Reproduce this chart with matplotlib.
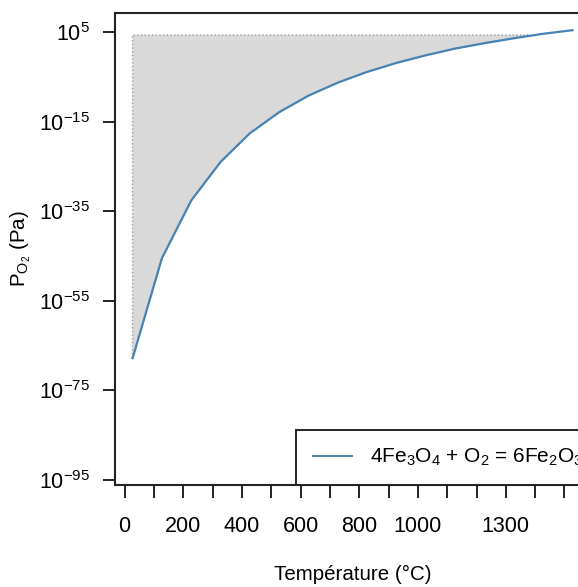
import numpy as np
import matplotlib
matplotlib.use("Agg")
import matplotlib.pyplot as plt
from matplotlib.ticker import FixedLocator, FixedFormatter, NullLocator

plt.rcParams['font.family'] = ['Liberation Sans', 'DejaVu Sans']
plt.rcParams['mathtext.fontset'] = 'custom'
plt.rcParams['mathtext.rm'] = 'Liberation Sans'
plt.rcParams['mathtext.it'] = 'Liberation Sans:italic'
plt.rcParams['mathtext.default'] = 'regular'

# Température (°C), pas de 100 K entre 300 K et 1800 K
temp_c = [27, 127, 227, 327, 427, 527, 627, 727, 827, 927,
          1027, 1127, 1227, 1327, 1427, 1527]
# log10 de la pression d'O2 à l'équilibre (Pa)
log_po2 = [-67.8, -45.5, -32.6, -24.0, -17.6, -12.9, -9.2, -6.3, -3.9, -1.9,
           -0.2, 1.3, 2.5, 3.6, 4.6, 5.4]
p_air = 0.21 * 101325  # pression partielle d'O2 dans l'air (Pa)

x_ticks = [0, 100, 200, 300, 400, 500, 600, 700, 800, 900, 1000, 1100, 1200, 1300, 1400, 1500]
x_labels = ['0', '', '200', '', '400', '', '600', '', '800', '', '1000', '', '', '1300', '', '']
y_exps = [5, -15, -35, -55, -75, -95]

label = r'4Fe$_3$O$_4$ + O$_2$ = 6Fe$_2$O$_3$'

T = np.array(temp_c, dtype=float)
P = 10.0 ** np.array(log_po2)

fig = plt.figure(figsize=(5.78, 5.87), dpi=100)
ax = fig.add_axes([115 / 578, 1 - 485 / 587, 475 / 578, 472 / 587])

ax.fill_between(T, P, p_air, where=P <= p_air, interpolate=True,
                facecolor='#d9d9d9', edgecolor='#9a9a9a', linestyle=':', linewidth=1.0)
ax.plot(T, P, color='#4682b4', linewidth=1.6, label=label)

ax.set_yscale('log')
ax.set_xlim(-33, 1587)
ax.set_ylim(10 ** -96.1, 10 ** 9.24)

ax.xaxis.set_major_locator(FixedLocator(x_ticks))
ax.xaxis.set_major_formatter(FixedFormatter(x_labels))
ax.yaxis.set_major_locator(FixedLocator([10.0 ** e for e in y_exps]))
ax.yaxis.set_major_formatter(FixedFormatter([r'$10^{%d}$' % e if e >= 0 else r'$10^{-%d}$' % -e for e in y_exps]))
ax.yaxis.set_minor_locator(NullLocator())

ax.tick_params(axis='both', direction='out', length=9, width=1.4, labelsize=15.5, color='#222222')
ax.tick_params(axis='x', pad=13)
ax.tick_params(axis='y', pad=9)
for sp in ax.spines.values():
    sp.set_linewidth(1.5)
    sp.set_color('#222222')

ax.set_xlabel('Température (°C)', fontsize=14.8, va='center')
ax.xaxis.set_label_coords(0.5, -0.19)
ax.set_ylabel(r'P$_{O_2}$ (Pa)', fontsize=14.8, va='center')
ax.yaxis.set_label_coords(-0.198, 0.5)

# la légende dépasse à droite, comme sur la figure d'origine
leg = ax.legend(loc='lower right', bbox_to_anchor=(1 + 10 / 475, 0), borderaxespad=0,
                fontsize=15, fancybox=False, framealpha=1, edgecolor='#222222',
                handlelength=1.9, handletextpad=0.85, borderpad=0.8)
leg.get_frame().set_linewidth(1.4)
leg.get_lines()[0].set_linewidth(1.4)

fig.savefig('out.png', dpi=100)
